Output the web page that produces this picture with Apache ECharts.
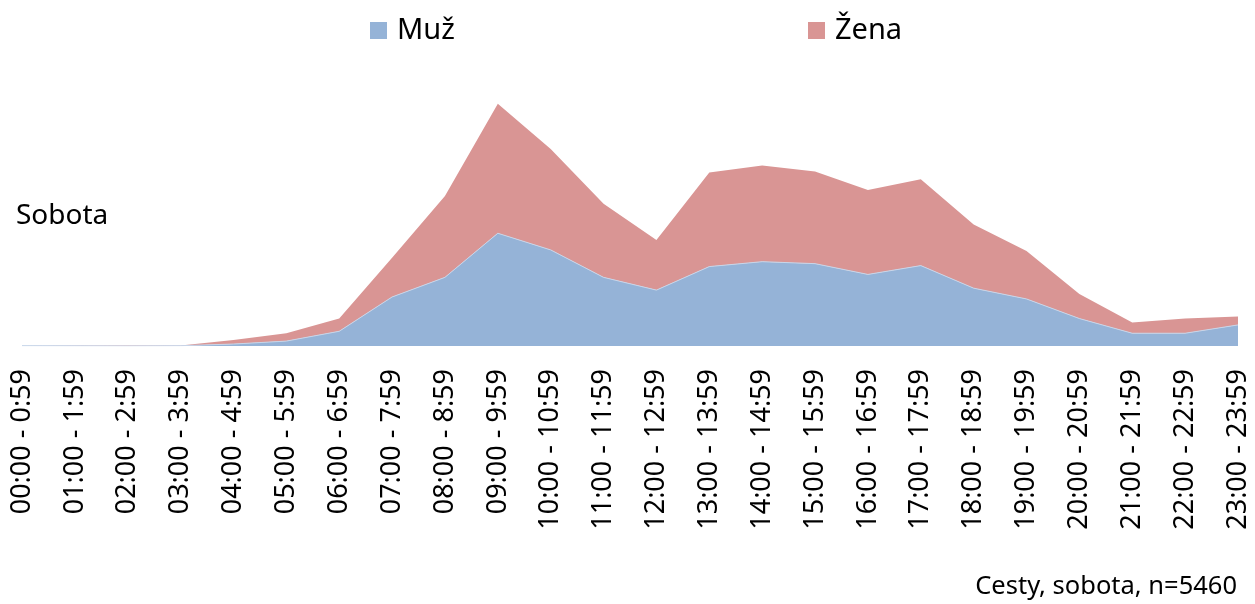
<!DOCTYPE html>
<html>
<head>
<meta charset="utf-8">
<script src="https://cdn.jsdelivr.net/npm/echarts@6/dist/echarts.min.js"></script>
<style>
  html, body { margin: 0; padding: 0; background: #fff; }
  #chart { width: 1255px; height: 604px; }
</style>
</head>
<body>
<div id="chart"></div>
<script>
// časové intervaly
var hours = ['00:00 - 0:59', '01:00 - 1:59', '02:00 - 2:59', '03:00 - 3:59', '04:00 - 4:59',
	'05:00 - 5:59', '06:00 - 6:59', '07:00 - 7:59', '08:00 - 8:59', '09:00 - 9:59',
	'10:00 - 10:59', '11:00 - 11:59', '12:00 - 12:59', '13:00 - 13:59', '14:00 - 14:59',
	'15:00 - 15:59', '16:00 - 16:59', '17:00 - 17:59', '18:00 - 18:59', '19:00 - 19:59',
	'20:00 - 20:59', '21:00 - 21:59', '22:00 - 22:59', '23:00 - 23:59'];

// počty cest
var muz  = [0.3, 0.2, 0.1, 0.3, 2, 5, 15, 50, 70, 115, 98, 70, 57, 81, 86, 84, 73, 82, 59, 48, 28, 13, 13, 21.5];
var zena = [0, 0.3, 0.4, 0.2, 4, 8, 13, 40, 83, 132, 103, 75, 51, 96, 98, 94, 86, 88, 65, 49, 25, 11, 15, 8.5];

var FONT = 'Noto Sans';

var legendText = { fontSize: 29, color: '#000', fontFamily: FONT, padding: [0, 0, 0, 5] };

var myChart = echarts.init(document.getElementById('chart'));
myChart.setOption({
	animation: false,
	textStyle: { fontFamily: FONT },
	grid: { left: 22, right: 17, top: 96, bottom: 258, containLabel: false },
	legend: [
		{ data: ['Muž'], icon: 'rect', left: 365, top: 11, itemWidth: 17, itemHeight: 17,
		  textStyle: legendText },
		{ data: ['Žena'], icon: 'rect', left: 803, top: 11, itemWidth: 17, itemHeight: 17,
		  textStyle: legendText }
	],
	xAxis: {
		type: 'category',
		data: hours,
		boundaryGap: false,
		axisLine: { show: false },
		axisTick: { show: false },
		axisLabel: { rotate: 90, fontSize: 27, color: '#000', margin: 23, interval: 0, fontFamily: FONT }
	},
	yAxis: {
		type: 'value',
		min: 0,
		max: 255,
		show: false,
		splitLine: { show: false }
	},
	graphic: [
		{ type: 'text', x: 16, y: 216, style: { text: 'Sobota', fontSize: 28, fill: '#000', fontFamily: FONT, verticalAlign: 'middle' } },
		{ type: 'text', x: 1237, y: 587, style: { text: 'Cesty, sobota, n=5460', fontSize: 25.5, fill: '#000', fontFamily: FONT, align: 'right', verticalAlign: 'middle' } }
	],
	series: [
		{
			name: 'Muž', type: 'line', stack: 'all', data: muz,
			showSymbol: false, symbol: 'none',
			itemStyle: { color: '#95b3d7' },
			lineStyle: { width: 1, color: '#c7d6ea' },
			areaStyle: { color: '#95b3d7', opacity: 1 }
		},
		{
			name: 'Žena', type: 'line', stack: 'all', data: zena,
			showSymbol: false, symbol: 'none',
			itemStyle: { color: '#d99594' },
			lineStyle: { width: 0 },
			areaStyle: { color: '#d99594', opacity: 1 }
		}
	]
});
</script>
</body>
</html>
